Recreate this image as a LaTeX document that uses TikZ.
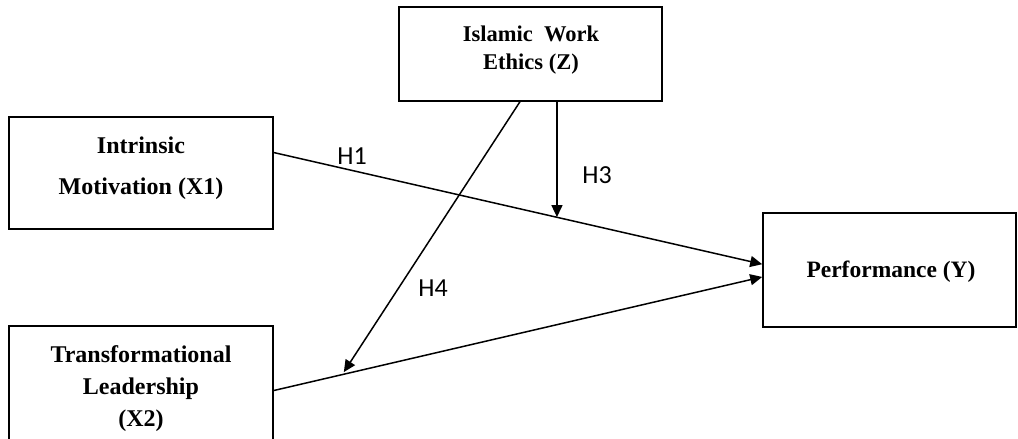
\documentclass[tikz,border=0pt]{standalone}
\usepackage{fontspec}
\setmainfont{Liberation Serif}
\newfontfamily\labelfont{Carlito}
\usetikzlibrary{arrows.meta,calc}

\tikzset{
  varbox/.style={draw, line width=1.6pt, inner sep=0pt},
  vartext/.style={align=center, inner sep=0pt, font=\fontsize{24}{32}\selectfont\bfseries},
  path/.style={line width=1.5pt, -{Triangle[length=12pt,width=11pt]}},
  hyp/.style={font=\labelfont\fontsize{26}{28}\selectfont}
}

\begin{document}
\begin{tikzpicture}[x=1pt,y=-1pt]
\useasboundingbox (0,0) rectangle (1018,439);

% variables
\node[varbox, minimum width=264pt, minimum height=112pt] (X1) at (141,173) {};
\node[vartext, font=\fontsize{24}{41}\selectfont\bfseries] (X1txt) at (141,168) {Intrinsic\\Motivation (X1)};
\node[varbox, minimum width=264pt, minimum height=124pt] (X2) at (141,388) {};
\node[vartext] (X2txt) at (141,389) {Transformational\\Leadership\\(X2)};
\node[varbox, minimum width=263pt, minimum height=94pt] (Z) at (530.5,54) {};
\node[vartext, font=\fontsize{22.5}{28}\selectfont\bfseries] (Ztxt) at (531,50) {Islamic~~Work\\Ethics (Z)};
\node[varbox, minimum width=253pt, minimum height=114pt] (Y) at (889.5,270) {};
\node[vartext, font=\fontsize{23.5}{28}\selectfont\bfseries] (Ytxt) at (891,272) {Performance (Y)};

% anchor points on the boxes
\coordinate (x1out) at ($(X1.north east)!0.32!(X1.south east)$);
\coordinate (x2out) at ($(X2.north east)!0.52!(X2.south east)$);
\coordinate (yin1) at ($(Y.north west)!0.45!(Y.south west)$);
\coordinate (yin2) at ($(Y.north west)!0.56!(Y.south west)$);
\coordinate (zout3) at ($(Z.south west)!0.60!(Z.south east)$);
\coordinate (zout4) at ($(Z.south west)!0.46!(Z.south east)$);

% direct paths
\draw[path] (x1out) -- (yin1);
\draw[path] (x2out) -- (yin2);

% moderation
\coordinate (h3tip) at ($(x1out)!0.578!(yin1)$);
\coordinate (h4tip) at ($(x2out)!0.14!(yin2)$);
\draw[path] (zout3) -- (zout3 |- h3tip);
\draw[path, shorten >=3pt] (zout4) -- (h4tip);

% labels
\node[hyp] (h1) at (352,156) {H1};
\node[hyp] (h3) at (597,175) {H3};
\node[hyp] (h4) at (433,288) {H4};
\end{tikzpicture}
\end{document}
